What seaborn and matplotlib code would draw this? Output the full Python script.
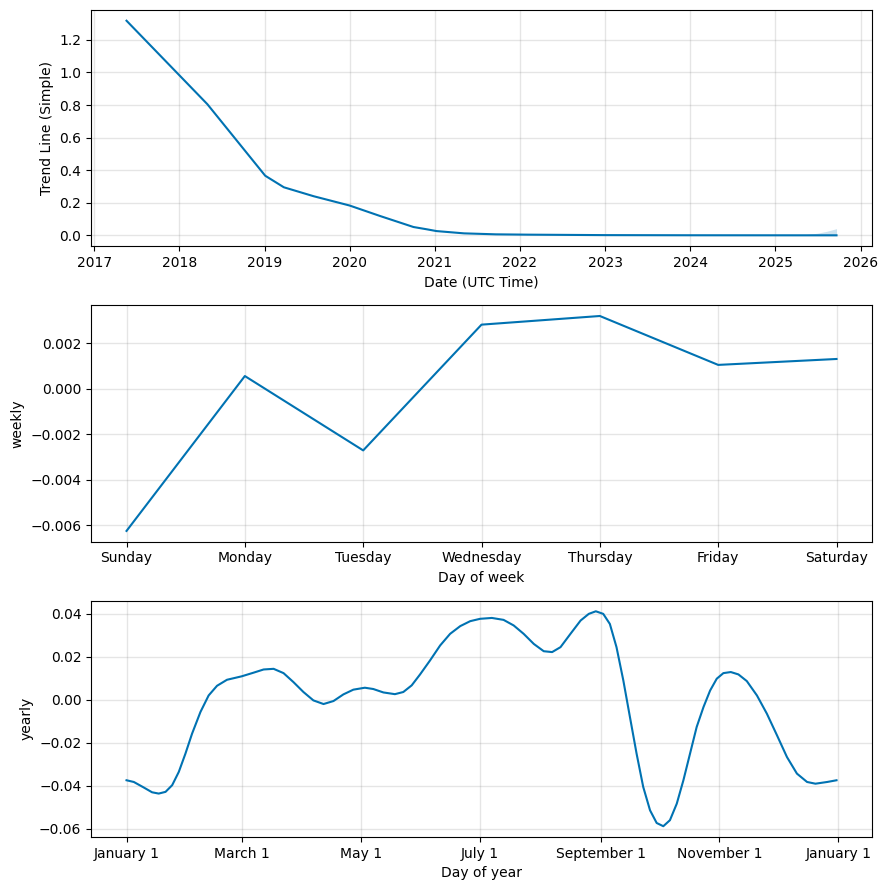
import pandas as pd
import matplotlib
matplotlib.use("Agg")
import matplotlib.pyplot as plt
import matplotlib.dates as mdates
from matplotlib.ticker import FuncFormatter
import seaborn as sns

LINE_COLOR = "#0072B2"

# --- trend component ---
trend_dates = ["2017-05-19", "2018-05-01", "2019-01-04", "2019-03-25", "2019-07-31",
               "2020-01-01", "2020-05-12", "2020-10-01", "2020-11-27", "2021-01-08",
               "2021-05-06", "2021-09-20", "2022-02-06", "2023-01-01", "2024-01-01",
               "2025-03-15", "2025-09-20"]
trend_values = [1.318, 0.805, 0.366, 0.295, 0.240,
                0.183, 0.118, 0.051, 0.037, 0.026,
                0.012, 0.006, 0.004, 0.0012, 0.0003,
                0.0, 0.0]

# uncertainty band at the forecast end
band_dates = ["2025-03-15", "2025-05-10", "2025-07-01", "2025-08-10", "2025-09-20"]
band_upper = [0.0, 0.004, 0.013, 0.025, 0.041]
band_lower = [0.0, 0.0, -0.001, -0.001, -0.002]

# --- weekly component ---
week_days = ["Sunday", "Monday", "Tuesday", "Wednesday", "Thursday", "Friday", "Saturday"]
weekly_values = [-0.00626, 0.00055, -0.00272, 0.00281, 0.00319, 0.00104, 0.00130]

# --- yearly component (day offset from Jan 1) ---
yearly_days = [0, 3.75, 8.9, 13.1, 16.5, 20.0, 23.4, 26.8, 30.2, 33.6,
               37.9, 42.1, 46.4, 51.5, 59.0, 65.1, 70.3, 75.4, 80.5, 85.6,
               90.7, 95.8, 101.0, 106.1, 111.2, 116.3, 122.2, 126.5, 131.7, 137.6,
               141.9, 146.2, 150.5, 155.6, 160.8, 165.9, 171.1, 176.2, 181.3, 187.3,
               193.3, 198.5, 203.6, 208.8, 213.9, 218.2, 222.5, 227.6, 232.8, 237.0,
               240.6, 244.4, 247.8, 251.2, 254.7, 258.1, 261.5, 264.9, 268.4, 271.8,
               275.2, 278.6, 282.1, 285.5, 288.9, 292.3, 295.8, 299.2, 302.6, 306.0,
               309.8, 313.7, 318.0, 323.2, 328.3, 333.5, 338.6, 343.7, 348.9, 353.2,
               359.2, 364.0]
yearly_values = [-0.0375, -0.0383, -0.0409, -0.0431, -0.0437, -0.0429, -0.0398, -0.0336, -0.0251, -0.0158,
                 -0.0057, 0.0020, 0.0065, 0.0093, 0.0109, 0.0126, 0.0141, 0.0144, 0.0124, 0.0082,
                 0.0036, -0.0003, -0.0020, -0.0006, 0.0025, 0.0047, 0.0056, 0.0050, 0.0034, 0.0026,
                 0.0036, 0.0067, 0.0118, 0.0183, 0.0253, 0.0307, 0.0343, 0.0366, 0.0377, 0.0381,
                 0.0372, 0.0346, 0.0307, 0.0260, 0.0226, 0.0222, 0.0245, 0.0307, 0.0369, 0.0400,
                 0.0412, 0.0400, 0.0353, 0.0245, 0.0090, -0.0081, -0.0251, -0.0406, -0.0515, -0.0574,
                 -0.0589, -0.0561, -0.0484, -0.0375, -0.0251, -0.0127, -0.0034, 0.0043, 0.0098, 0.0124,
                 0.0129, 0.0118, 0.0087, 0.0020, -0.0065, -0.0166, -0.0267, -0.0344, -0.0383, -0.0391,
                 -0.0383, -0.0375]


def style_grid(ax):
    ax.grid(True, which="major", c="gray", ls="-", lw=1, alpha=0.2)


fig, axes = plt.subplots(3, 1, figsize=(8.88, 8.90), dpi=100)
fig.subplots_adjust(left=0.1025, right=0.982, top=0.9888, bottom=0.0596, hspace=0.249)

# trend
ax = axes[0]
trend_df = pd.DataFrame({"ds": pd.to_datetime(trend_dates), "trend": trend_values})
sns.lineplot(data=trend_df, x="ds", y="trend", ax=ax, color=LINE_COLOR, lw=1.5)
ax.fill_between(pd.to_datetime(band_dates), band_lower, band_upper, color=LINE_COLOR, alpha=0.2, lw=0)
ax.xaxis.set_major_locator(mdates.YearLocator())
ax.xaxis.set_major_formatter(mdates.DateFormatter("%Y"))
ax.set_xlabel("Date (UTC Time)")
ax.set_ylabel("Trend Line (Simple)")
style_grid(ax)

# weekly
ax = axes[1]
weekly_df = pd.DataFrame({"i": range(len(week_days)), "weekly": weekly_values})
sns.lineplot(data=weekly_df, x="i", y="weekly", ax=ax, color=LINE_COLOR, lw=1.5)
ax.set_xticks(range(len(week_days)))
ax.set_xticklabels(week_days)
ax.set_xlabel("Day of week")
ax.set_ylabel("weekly")
style_grid(ax)

# yearly
ax = axes[2]
yearly_df = pd.DataFrame({
    "ds": pd.Timestamp("2017-01-01") + pd.to_timedelta(yearly_days, unit="D"),
    "yearly": yearly_values,
})
sns.lineplot(data=yearly_df, x="ds", y="yearly", ax=ax, color=LINE_COLOR, lw=1.5)
ax.xaxis.set_major_locator(mdates.MonthLocator(bymonthday=1, interval=2))
ax.xaxis.set_major_formatter(FuncFormatter(
    lambda x, pos=None: "{dt:%B} {dt.day}".format(dt=mdates.num2date(x))))
ax.set_xlabel("Day of year")
ax.set_ylabel("yearly")
style_grid(ax)

fig.savefig("out.png", dpi=100)
